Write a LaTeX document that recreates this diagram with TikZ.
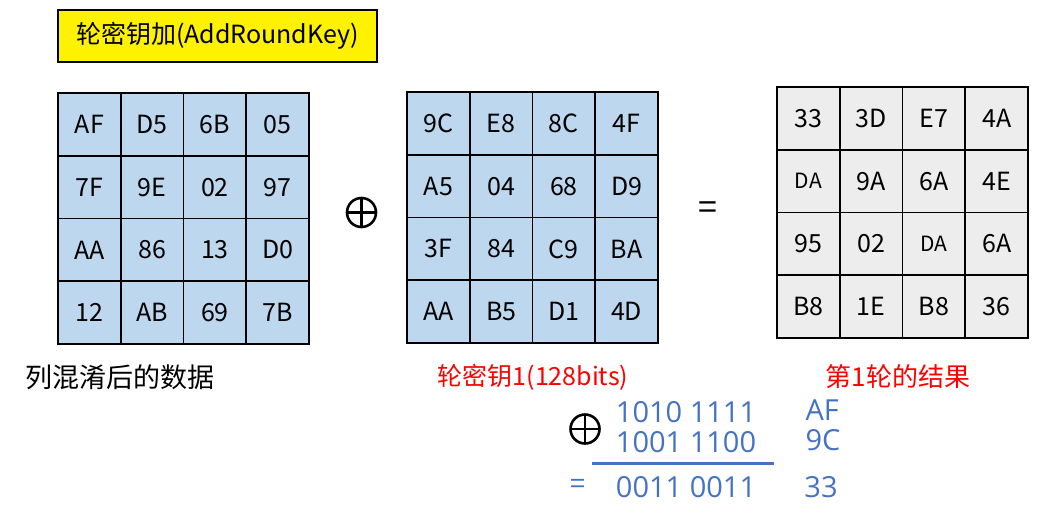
\documentclass[tikz,border=0pt]{standalone}
\usepackage{fontspec}
\setmainfont{Noto Sans CJK SC}
\newfontfamily\binfont{Open Sans}
\usetikzlibrary{positioning}

\definecolor{cellblue}{HTML}{BDD7EE}
\definecolor{cellgray}{HTML}{EDEDED}
\definecolor{sumblue}{HTML}{4472C4}
\newcommand{\smallhex}[1]{{\fontsize{21}{21}\selectfont #1}}

\begin{document}
\begin{tikzpicture}[x=1pt,y=-1pt,
    cell/.style={draw,line width=1.6pt,minimum size=62.75pt,inner sep=0pt,
        font=\fontsize{25}{25}\selectfont},
    xorsign/.style={circle,draw,line width=2.6pt,minimum size=29pt,inner sep=0pt,
        path picture={\draw[line width=2.6pt]
            (path picture bounding box.north) -- (path picture bounding box.south)
            (path picture bounding box.west) -- (path picture bounding box.east);}},
    lbl/.style={font=\fontsize{25}{25}\selectfont},
    bin/.style={text=sumblue,font=\binfont\fontsize{29}{29}\selectfont}]
    \useasboundingbox (0,0) rectangle (1059,517);

    % title
    \node[draw,line width=2pt,fill=yellow,minimum width=319pt,minimum height=52pt,
        font=\fontsize{25}{25}\selectfont] (title) at (217.5,36) {轮密钥加(AddRoundKey)};

    % state after MixColumns
    \foreach \v [count=\i from 0] in {AF,D5,6B,05,7F,9E,02,97,AA,86,13,D0,12,AB,69,7B}{
        \pgfmathtruncatemacro\r{div(\i,4)}
        \pgfmathtruncatemacro\c{mod(\i,4)}
        \node[cell,fill=cellblue] (s-\r-\c) at (89.4+62.75*\c,124.4+62.75*\r) {\v};
    }
    % round key
    \foreach \v [count=\i from 0] in {9C,E8,8C,4F,A5,04,68,D9,3F,84,C9,BA,AA,B5,D1,4D}{
        \pgfmathtruncatemacro\r{div(\i,4)}
        \pgfmathtruncatemacro\c{mod(\i,4)}
        \node[cell,fill=cellblue] (k-\r-\c) at (438.4+62.75*\c,123.4+62.75*\r) {\v};
    }
    % result
    \foreach \v [count=\i from 0] in {33,3D,E7,4A,\smallhex{DA},9A,6A,4E,95,02,\smallhex{DA},6A,B8,1E,B8,36}{
        \pgfmathtruncatemacro\r{div(\i,4)}
        \pgfmathtruncatemacro\c{mod(\i,4)}
        \node[cell,fill=cellgray] (o-\r-\c) at (808.4+62.75*\c,118.4+62.75*\r) {\v};
    }

    \node[xorsign] (xor) at (361.5,212.5) {};
    \node[font=\fontsize{34}{34}\selectfont] (eq) at (708,211) {=};

    \node[lbl,font=\fontsize{27}{27}\selectfont] (lstate) at (120,377) {列混淆后的数据};
    \node[lbl,text=red] (lkey) at (533,377) {轮密钥1(128bits)};
    \node[lbl,text=red,font=\fontsize{26}{26}\selectfont] (lout) at (898,377) {第1轮的结果};

    % one byte worked out
    \node[xorsign] (bxor) at (585,429) {};
    \node[bin] (b1) at (686,412) {1010 1111};
    \node[bin] (b2) at (686,442) {1001 1100};
    \node[bin] (b3) at (686,487) {0011 0011};
    \node[text=sumblue,font=\fontsize{27}{27}\selectfont] (beq) at (578,486) {=};
    \node[bin,anchor=west] (h1) at (802,410) {AF};
    \node[bin,anchor=west] (h2) at (802,440) {9C};
    \node[bin] (h3) at (821,487) {33};
    \coordinate (ul) at (592,463);
    \coordinate (ur) at (774,463);
    \draw[sumblue,line width=3pt] (ul) -- (ur);
\end{tikzpicture}
\end{document}
